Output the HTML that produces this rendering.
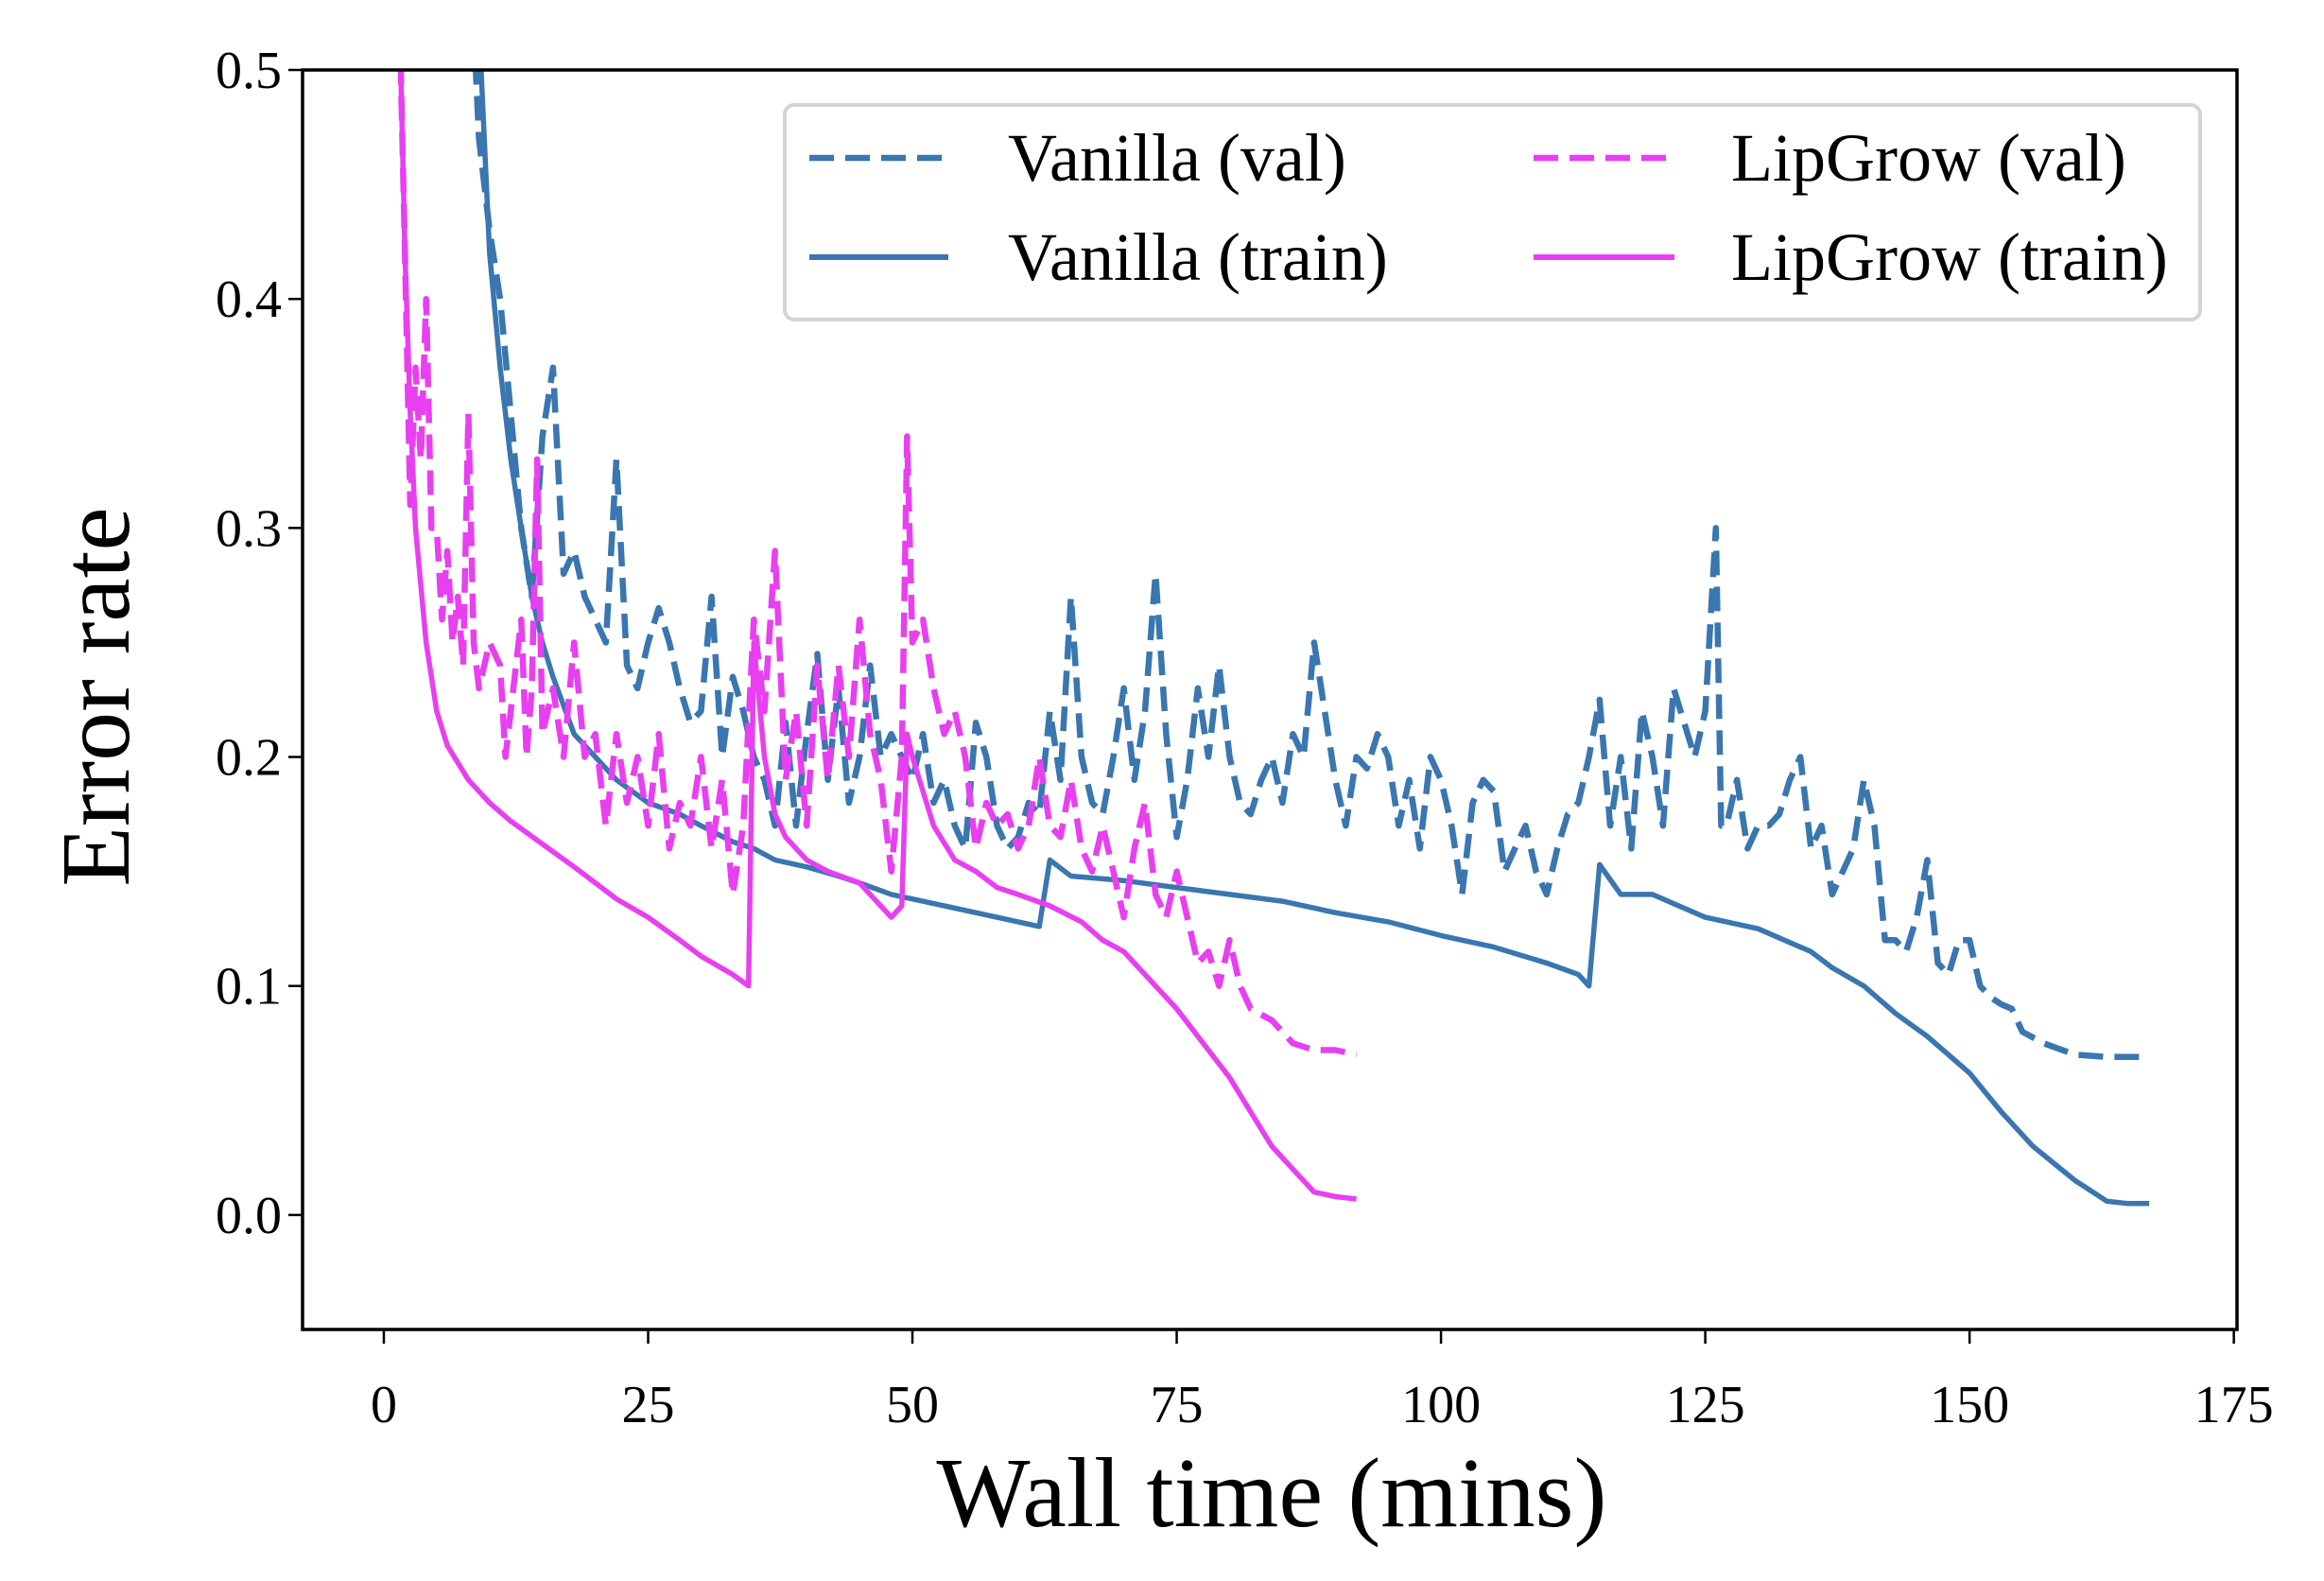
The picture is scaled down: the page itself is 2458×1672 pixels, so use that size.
<!DOCTYPE html>
<html><head><meta charset="utf-8"><style>
html,body{margin:0;padding:0;background:#fff}
svg{display:block}
text{font-family:"Liberation Serif",serif;fill:#000}
</style></head><body>
<svg id="chart" width="2458" height="1672" viewBox="0 0 2458 1672">
<rect x="0" y="0" width="2458" height="1672" fill="#fff"/>
<defs><clipPath id="plotclip"><rect x="320" y="74" width="2046" height="1332"/></clipPath></defs>
<g id="series" clip-path="url(#plotclip)"></g>
<rect x="320" y="74" width="2046" height="1332" fill="none" stroke="#000" stroke-width="3.5"/>
<g id="xticks"></g>
<g id="yticks"></g>
<text x="1345" y="1614" font-size="105" text-anchor="middle">Wall time (mins)</text>
<text x="0" y="0" font-size="104" text-anchor="middle" transform="translate(136,737) rotate(-90)">Error rate</text>
<g>
<rect x="830" y="111" width="1497" height="227" rx="10" fill="#fff" fill-opacity="0.8" stroke="#d4d4d4" stroke-width="4"/>
<g><line x1="856" y1="167" x2="1003" y2="167" stroke="#3a76af" stroke-width="6.5" stroke-dasharray="26 12"/><text x="1066" y="191" font-size="72">Vanilla (val)</text></g>
<g><line x1="856" y1="272" x2="1003" y2="272" stroke="#3a76af" stroke-width="6"/><text x="1066" y="296" font-size="72">Vanilla (train)</text></g>
<g><line x1="1622" y1="167" x2="1771" y2="167" stroke="#e83ff0" stroke-width="6.5" stroke-dasharray="26 12"/><text x="1831" y="191" font-size="72">LipGrow (val)</text></g>
<g><line x1="1622" y1="272" x2="1771" y2="272" stroke="#e83ff0" stroke-width="6"/><text x="1831" y="296" font-size="72">LipGrow (train)</text></g>
</g>
</svg>
<script>
const xTicks=[0,25,50,75,100,125,150,175];
const yTicks=[0.0,0.1,0.2,0.3,0.4,0.5];
const yTickLabels=["0.0","0.1","0.2","0.3","0.4","0.5"];
const vanTrainT=[9,10,11,12,13,14,15,16,18,20,22,25,28,30,33,35,37,40,43,45,48,50,55,58,60,62,63,65,70,75,80,85,90,95,100,105,110,113,114,115,117,120,125,130,135,137,140,143,146,150,153,156,160,163,165,167];
const vanTrainV=[0.52,0.42,0.37,0.33,0.3,0.27,0.25,0.235,0.21,0.2,0.19,0.18,0.175,0.17,0.163,0.16,0.155,0.152,0.148,0.145,0.14,0.138,0.133,0.13,0.128,0.126,0.155,0.148,0.146,0.143,0.14,0.137,0.132,0.128,0.122,0.117,0.11,0.105,0.1,0.153,0.14,0.14,0.13,0.125,0.115,0.108,0.1,0.088,0.078,0.062,0.045,0.03,0.015,0.006,0.005,0.005];
const lipTrainT=[1.5,2,2.5,3,4,5,6,8,10,12,15,18,20,22,25,28,30,33,34.5,35,36,37,38,40,42,45,47,48,49,49.5,50,52,54,56,58,60,63,66,68,70,72,75,78,80,82,84,86,88,90,92];
const lipTrainV=[0.52,0.42,0.35,0.3,0.25,0.22,0.205,0.19,0.18,0.172,0.162,0.152,0.145,0.138,0.13,0.12,0.113,0.105,0.1,0.25,0.2,0.175,0.165,0.155,0.15,0.145,0.135,0.13,0.135,0.21,0.2,0.17,0.155,0.15,0.143,0.14,0.135,0.128,0.12,0.115,0.105,0.09,0.072,0.06,0.045,0.03,0.02,0.01,0.008,0.007];
const vanValT=[8.5,9,10,11,12,13,14,15,16,17,18,19,20,21,22,23,24,25,26,27,28,29,30,31,32,33,34,35,36,37,38,39,40,41,42,43,44,45,46,47,48,49,50,51,52,53,54,55,56,57,58,59,60,61,62,63,64,65,66,67,68,69,70,71,72,73,74,75,76,77,78,79,80,81,82,83,84,85,86,87,88,89,90,91,92,93,94,95,96,97,98,99,100,101,102,103,104,105,106,107,108,109,110,111,112,113,114,115,116,117,118,119,120,121,122,123,124,125,126,126.5,127,128,129,130,131,132,133,134,135,136,137,138,139,140,141,142,143,144,145,146,147,148,149,150,151,152,153,154,155,157,160,163,165,167];
const vanValV=[0.52,0.47,0.43,0.4,0.35,0.3,0.27,0.34,0.37,0.28,0.29,0.27,0.26,0.25,0.33,0.24,0.23,0.25,0.265,0.25,0.23,0.215,0.22,0.27,0.2,0.235,0.22,0.2,0.19,0.17,0.215,0.17,0.21,0.245,0.19,0.23,0.18,0.2,0.24,0.2,0.21,0.2,0.19,0.21,0.18,0.19,0.17,0.16,0.215,0.2,0.17,0.16,0.165,0.18,0.175,0.22,0.19,0.27,0.2,0.18,0.175,0.2,0.23,0.19,0.22,0.28,0.21,0.165,0.19,0.23,0.2,0.24,0.2,0.18,0.175,0.19,0.2,0.18,0.21,0.2,0.25,0.22,0.19,0.17,0.2,0.195,0.21,0.2,0.17,0.19,0.16,0.2,0.19,0.17,0.14,0.18,0.19,0.185,0.15,0.16,0.17,0.15,0.14,0.16,0.175,0.18,0.2,0.225,0.17,0.2,0.16,0.22,0.2,0.17,0.23,0.215,0.2,0.22,0.3,0.17,0.17,0.19,0.16,0.17,0.17,0.175,0.19,0.2,0.16,0.17,0.14,0.15,0.16,0.19,0.17,0.12,0.12,0.115,0.13,0.155,0.11,0.105,0.12,0.12,0.1,0.095,0.092,0.09,0.08,0.075,0.07,0.069,0.069,0.069];
const lipValT=[1.5,2,2.5,3,3.5,4,4.5,5,5.5,6,6.5,7,7.5,8,8.5,9,10,11,11.5,12,13,13.5,14,14.5,15,16,17,18,19,20,21,22,23,24,25,26,27,28,29,30,31,32,33,34,35,36,37,38,39,40,41,42,43,44,45,46,47,48,49,49.5,50,51,52,53,54,55,56,57,58,59,60,61,62,63,64,65,66,67,68,69,70,71,72,73,74,75,76,77,78,79,80,81,82,84,86,88,90,92];
const lipValV=[0.52,0.42,0.31,0.37,0.33,0.4,0.3,0.3,0.26,0.29,0.25,0.27,0.24,0.35,0.25,0.23,0.25,0.24,0.2,0.22,0.26,0.2,0.23,0.33,0.21,0.23,0.2,0.25,0.2,0.21,0.17,0.21,0.18,0.2,0.17,0.21,0.16,0.18,0.17,0.2,0.16,0.19,0.14,0.17,0.26,0.22,0.29,0.19,0.22,0.17,0.24,0.19,0.24,0.2,0.26,0.21,0.19,0.15,0.2,0.34,0.25,0.26,0.23,0.21,0.22,0.2,0.16,0.18,0.17,0.175,0.16,0.17,0.2,0.17,0.165,0.19,0.16,0.15,0.17,0.15,0.13,0.16,0.18,0.14,0.13,0.15,0.13,0.11,0.115,0.1,0.12,0.1,0.09,0.085,0.075,0.072,0.072,0.07];

const NS="http://www.w3.org/2000/svg";
const X0=320,X1=2366,Y0=74,Y1=1406;
const xMin=-7.69,xMax=175.3,yMin=-0.05,yMax=0.5;
function sx(v){return X0+(v-xMin)/(xMax-xMin)*(X1-X0);}
function sy(v){return Y1-(v-yMin)/(yMax-yMin)*(Y1-Y0);}
const series=document.getElementById('series');
function draw(ts,vs,color,dashed,name){
  const p=document.createElementNS(NS,'polyline');
  p.setAttribute('points',ts.map((t,i)=>sx(t).toFixed(1)+','+sy(vs[i]).toFixed(1)).join(' '));
  p.setAttribute('fill','none');p.setAttribute('stroke',color);p.setAttribute('stroke-width',dashed?'6.5':'5.5');
  p.setAttribute('stroke-linejoin','round');
  if(dashed)p.setAttribute('stroke-dasharray','26 12');
  
  
  series.appendChild(p);
}
draw(vanValT,vanValV,'#3a76af',true,'vanilla-val-line');
draw(vanTrainT,vanTrainV,'#3a76af',false,'vanilla-train-line');
draw(lipValT,lipValV,'#e83ff0',true,'lipgrow-val-line');
draw(lipTrainT,lipTrainV,'#e83ff0',false,'lipgrow-train-line');
const xg=document.getElementById('xticks');
xTicks.forEach(v=>{
  const l=document.createElementNS(NS,'line');
  l.setAttribute('x1',sx(v));l.setAttribute('x2',sx(v));l.setAttribute('y1',Y1);l.setAttribute('y2',Y1+15);
  l.setAttribute('stroke','#000');l.setAttribute('stroke-width','2.5');
  
  
  xg.appendChild(l);
  const t=document.createElementNS(NS,'text');
  t.setAttribute('x',sx(v));t.setAttribute('y',1504);t.setAttribute('font-size','56');t.setAttribute('text-anchor','middle');
  t.textContent=String(v);
  
  
  xg.appendChild(t);
});
const yg=document.getElementById('yticks');
yTicks.forEach((v,i)=>{
  const l=document.createElementNS(NS,'line');
  l.setAttribute('x1',X0-15);l.setAttribute('x2',X0);l.setAttribute('y1',sy(v));l.setAttribute('y2',sy(v));
  l.setAttribute('stroke','#000');l.setAttribute('stroke-width','2.5');
  
  
  yg.appendChild(l);
  const t=document.createElementNS(NS,'text');
  t.setAttribute('x',298);t.setAttribute('y',sy(v)+19);t.setAttribute('font-size','56');t.setAttribute('text-anchor','end');
  t.textContent=yTickLabels[i];
  
  
  yg.appendChild(t);
});
</script>
</body></html>
